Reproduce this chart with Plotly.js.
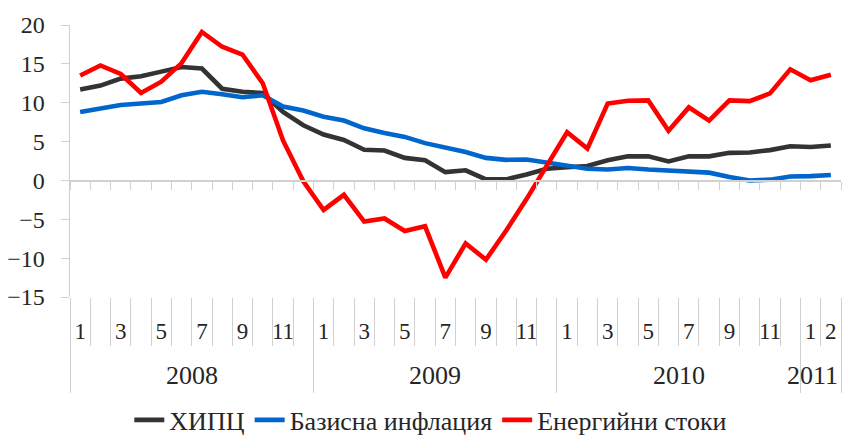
<!DOCTYPE html>
<html>
<head>
<meta charset="utf-8">
<script src="https://cdn.plot.ly/plotly-3.0.1.min.js"></script>
<style>html,body{margin:0;padding:0;background:#fff;}#chart{width:845px;height:438px;}</style>
</head>
<body>
<div id="chart"></div>
<script>
// Categories: months Jan 2008 – Feb 2011
const years = ["2008", "2009", "2010", "2011"];
const monthLabels = [
  "1","","3","","5","","7","","9","","11","",
  "1","","3","","5","","7","","9","","11","",
  "1","","3","","5","","7","","9","","11","",
  "1","2"
];
const seriesNames = ["ХИПЦ", "Базисна инфлация", "Енергийни стоки"];

const hicp = [11.7, 12.2, 13.1, 13.4, 14.0, 14.6, 14.4, 11.8, 11.4, 11.25, 8.8, 7.1,
              5.9, 5.2, 3.95, 3.85, 2.9, 2.6, 1.07, 1.3, 0.13, 0.13, 0.77, 1.5,
              1.7, 1.85, 2.6, 3.1, 3.1, 2.45, 3.1, 3.1, 3.55, 3.6, 3.9, 4.4,
              4.3, 4.5];
const core = [8.8, 9.2, 9.7, 9.9, 10.1, 10.95, 11.4, 11.1, 10.7, 10.95, 9.5, 9.0,
              8.2, 7.7, 6.7, 6.1, 5.6, 4.8, 4.25, 3.65, 2.9, 2.65, 2.7, 2.35,
              2.0, 1.5, 1.4, 1.6, 1.4, 1.3, 1.2, 1.0, 0.45, 0.0, 0.1, 0.5,
              0.55, 0.7];
const energy = [13.5, 14.8, 13.7, 11.25, 12.7, 15.1, 19.1, 17.2, 16.2, 12.5, 5.15, -0.1,
                -3.8, -1.85, -5.3, -4.9, -6.5, -5.9, -12.5, -8.1, -10.2, -6.45, -2.4, 1.8,
                6.2, 4.1, 9.9, 10.25, 10.3, 6.4, 9.4, 7.7, 10.3, 10.2, 11.2, 14.3,
                12.9, 13.6];

const yTicks = [-15, -10, -5, 0, 5, 10, 15, 20];
const colors = ["#333333", "#0066CC", "#FF0000"];

const n = monthLabels.length;
const idx = monthLabels.map((_, i) => i);
const boundaries = [];
for (let i = 0; i <= n; i++) boundaries.push(i - 0.5);
const perYear = [12, 12, 12, 2];
const yearDiv = [-0.5];
const yearCenter = [];
let acc = 0;
perYear.forEach(c => { yearCenter.push(acc + c / 2 - 0.5); acc += c; yearDiv.push(acc - 0.5); });

const FONT = "Liberation Serif, Times New Roman, serif";
const TXT = "#262626";
const GRID = "#d0d0d0";
const xr = [-0.5, n - 0.5];

const data = [hicp, core, energy].map((s, k) => ({
  x: idx, y: s, type: "scatter", mode: "lines", name: seriesNames[k],
  line: {color: colors[k], width: 4.6}, xaxis: "x", yaxis: "y"
}));
["x2", "x3", "x4"].forEach(a => data.push({x: [null], y: [null], xaxis: a, yaxis: "y", showlegend: false, hoverinfo: "skip", type: "scatter", mode: "lines"}));

const yLo = -15, yHi = 20;
const zeroPos = (0 - yLo) / (yHi - yLo);

const layout = {
  width: 845, height: 438,
  margin: {l: 70, r: 4, t: 25, b: 141, autoexpand: false},
  paper_bgcolor: "#fff", plot_bgcolor: "#fff",
  font: {family: FONT, size: 22, color: TXT},
  showlegend: true,
  legend: {orientation: "h", x: 0.468, xanchor: "center", y: -0.452, yanchor: "middle",
           font: {family: FONT, size: 26, color: TXT}, tracegroupgap: 0, borderwidth: 0},
  xaxis: {range: xr, tickmode: "array", tickvals: idx, ticktext: monthLabels, ticks: "", showline: false, tickangle: 0,
          showgrid: false, zeroline: false, tickfont: {family: FONT, size: 23, color: TXT}, ticklabelstandoff: 18},
  xaxis2: {range: xr, overlaying: "x", anchor: "y", side: "bottom", tickmode: "array", tickvals: boundaries,
           ticks: "outside", ticklen: 48, tickcolor: GRID, tickwidth: 1, showticklabels: false, showline: false, showgrid: false, zeroline: false},
  xaxis3: {range: xr, overlaying: "x", anchor: "y", side: "bottom", tickmode: "array", tickvals: yearDiv,
           ticks: "outside", ticklen: 95, tickcolor: GRID, tickwidth: 1, showticklabels: false, showline: false, showgrid: false, zeroline: false},
  xaxis4: {range: xr, overlaying: "x", anchor: "free", position: zeroPos, side: "bottom", tickmode: "array", tickvals: boundaries,
           ticks: "outside", ticklen: 8, tickcolor: GRID, tickwidth: 1, showticklabels: false, showline: true, linecolor: GRID, linewidth: 1.5,
           showgrid: false, zeroline: false},
  yaxis: {range: [yLo, yHi], tickmode: "array", tickvals: yTicks, ticks: "outside", ticklen: 8, tickcolor: GRID,
          showline: true, linecolor: GRID, linewidth: 1.5, showgrid: false, zeroline: false,
          tickfont: {family: FONT, size: 24, color: TXT}, ticklabelstandoff: 11},
  annotations: years.map((yr, i) => ({
    text: yr, xref: "x", yref: "paper", x: yearCenter[i], y: -0.287, yanchor: "middle", showarrow: false,
    font: {family: FONT, size: 26, color: TXT}, xshift: i === years.length - 1 ? -8 : 0
  }))
};

Plotly.newPlot("chart", data, layout, {displayModeBar: false, staticPlot: true});
</script>
</body>
</html>
